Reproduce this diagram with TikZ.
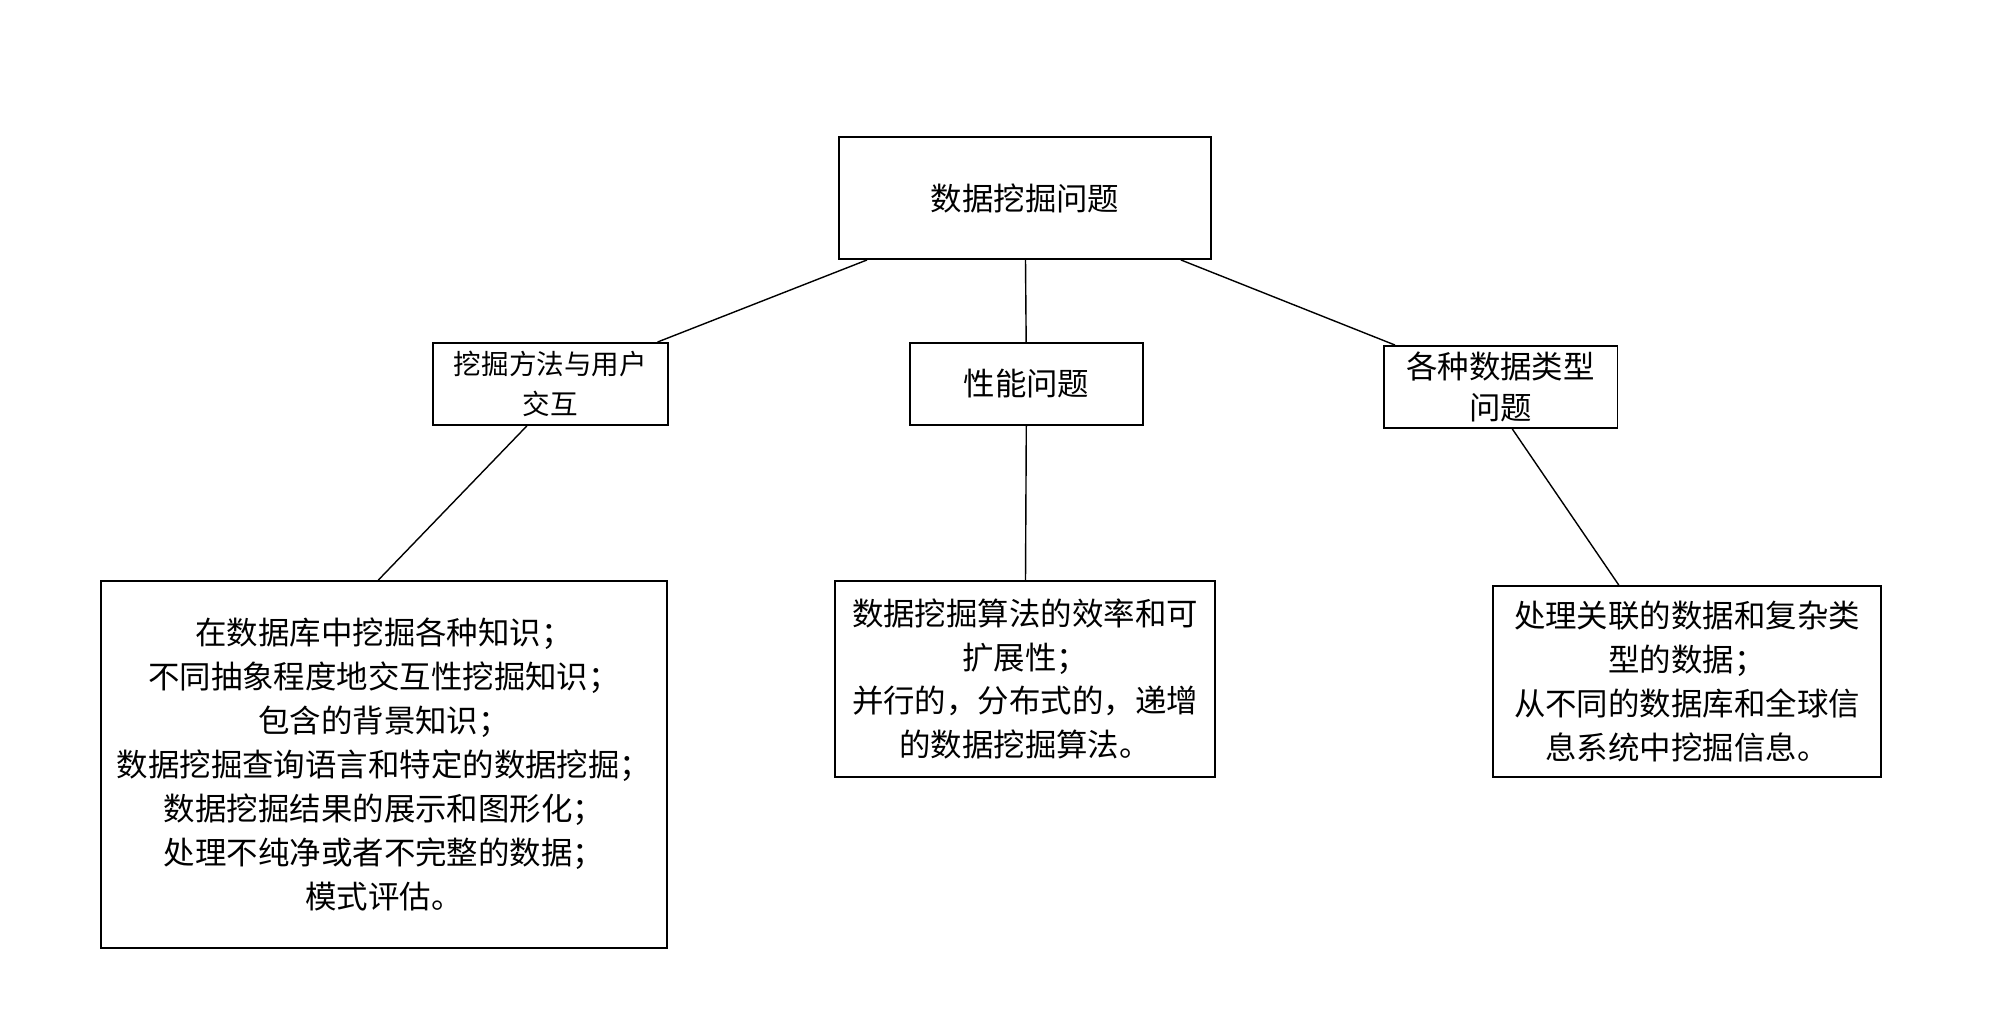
\documentclass[tikz,border=0pt]{standalone}
\usepackage{fontspec}
\setmainfont{Noto Sans CJK SC}
\usetikzlibrary{calc}

\tikzset{
	box/.style={draw, line width=1.1pt, align=center, inner sep=0pt, font=\fontsize{17.9}{25}\selectfont},
	smallbox/.style={box, font=\fontsize{15.7}{23}\selectfont},
}

\begin{document}
\begin{tikzpicture}[x=0.02cm, y=-0.02cm, line width=0.8pt]
	\useasboundingbox (0,0) rectangle (2014,1020);

	\node[box, minimum width=7.44cm, minimum height=2.44cm] (Q) at (1025,198) {数据挖掘问题};

	\node[smallbox, minimum width=4.7cm, minimum height=1.64cm] (M1) at (550.5,384) {挖掘方法与用户\\交互};
	\node[box, minimum width=4.66cm, minimum height=1.64cm] (M2) at (1026.5,384) {性能问题};
	\node[box, minimum width=4.68cm, minimum height=1.64cm, font=\fontsize{17.9}{23.3}\selectfont] (M3) at (1500.5,387) {各种数据类型\\问题};

	\node[box, minimum width=11.32cm, minimum height=7.34cm] (D1) at (384,764.5) {在数据库中挖掘各种知识；\\不同抽象程度地交互性挖掘知识；\\包含的背景知识；\\数据挖掘查询语言和特定的数据挖掘；\\数据挖掘结果的展示和图形化；\\处理不纯净或者不完整的数据；\\模式评估。};
	\node[box, minimum width=7.6cm, minimum height=3.92cm] (D2) at (1025,679) {数据挖掘算法的效率和可\\扩展性；\\并行的，分布式的，递增\\的数据挖掘算法。};
	\node[box, minimum width=7.76cm, minimum height=3.82cm] (D3) at (1687,681.5) {处理关联的数据和复杂类\\型的数据；\\从不同的数据库和全球信\\息系统中挖掘信息。};

	\draw (Q) -- (M1);
	\draw (Q) -- (M2);
	\draw (Q) -- (M3);

	\draw ($(M1.south west)!0.4!(M1.south east)$) -- ($(D1.north west)!0.49!(D1.north east)$);
	\draw (M2) -- (D2);
	\draw ($(M3.south west)!0.55!(M3.south east)$) -- ($(D3.north west)!0.325!(D3.north east)$);

\end{tikzpicture}
\end{document}
